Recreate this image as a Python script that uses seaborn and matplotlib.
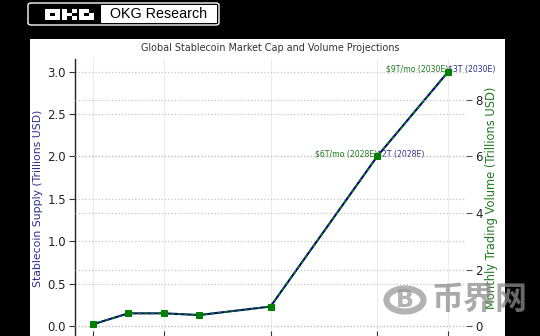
import matplotlib
matplotlib.use("Agg")
import matplotlib.pyplot as plt
from matplotlib.patches import Rectangle, FancyBboxPatch, Circle
import seaborn as sns
import pandas as pd

# Projection data
years = [2020, 2021, 2022, 2023, 2025, 2028, 2030]
supply_trn = [0.02, 0.15, 0.15, 0.13, 0.23, 2.0, 3.0]
volume_trn = [0.06, 0.45, 0.45, 0.39, 0.69, 6.0, 9.0]
year_ticks = [2020, 2022, 2025, 2028, 2030]

supply_notes = [(2028, 2.0, "$2T (2028E)"), (2030, 3.0, "$3T (2030E)")]
volume_notes = [(2028, 6.0, "$6T/mo (2028E)"), (2030, 9.0, "$9T/mo (2030E)")]

title = "Global Stablecoin Market Cap and Volume Projections"
left_label = "Stablecoin Supply (Trillions USD)"
right_label = "Monthly Trading Volume (Trillions USD)"

SUPPLY_C = "#2e2e8e"
VOLUME_C = "#1f7a1f"

df = pd.DataFrame({"year": years, "supply": supply_trn, "volume": volume_trn})

sns.set_theme(style="white")
plt.rcParams["font.family"] = ["DejaVu Sans", "Noto Sans CJK SC"]

W, H = 540, 336
fig = plt.figure(figsize=(W / 100, H / 100), dpi=100, facecolor="black")

def fx(px):
    return px / W

def fy(py):
    return 1 - py / H

# white chart panel (behind the axes)
fig.patches.append(Rectangle((fx(30), fy(336)), fx(505) - fx(30), fy(39) - fy(336),
                             transform=fig.transFigure, facecolor="white",
                             edgecolor="none", zorder=-5))

# header badge
fig.patches.append(FancyBboxPatch((fx(28), fy(25)), fx(219) - fx(28), fy(3) - fy(25),
                                  boxstyle="round,pad=0,rounding_size=0.006",
                                  transform=fig.transFigure, facecolor="black",
                                  edgecolor="white", linewidth=1.0, zorder=1))
fig.patches.append(Rectangle((fx(101), fy(23)), fx(217) - fx(101), fy(5) - fy(23),
                             transform=fig.transFigure, facecolor="white",
                             edgecolor="none", zorder=2))
fig.text(fx(159), fy(14.5), "OKG Research", ha="center", va="center",
         fontsize=10.3, family="Liberation Sans", color="black", zorder=3)

# blocky logo letters
glyphs = {
    "O": ["111", "101", "111"],
    "K": ["101", "110", "101"],
    "G": ["110", "101", "111"],
}
cell_w, cell_h = 5.0, 3.7
x0 = 45
for ch in "OKG":
    for r, row in enumerate(glyphs[ch]):
        for c, v in enumerate(row):
            if v == "1":
                px = x0 + c * cell_w
                py = 9 + r * cell_h
                fig.patches.append(Rectangle((fx(px), fy(py + cell_h)), cell_w / W, cell_h / H,
                                             transform=fig.transFigure, facecolor="white",
                                             edgecolor="none", zorder=3))
    x0 += 3 * cell_w + 2

# main axes
ax1 = fig.add_axes([fx(75), fy(337), fx(466) - fx(75), fy(59) - fy(337)])
ax1.set_facecolor("none")
ax2 = ax1.twinx()
ax1.set_zorder(2)
ax2.set_zorder(3)
ax2.set_facecolor("none")

sns.lineplot(data=df, x="year", y="supply", ax=ax1, color="navy", linewidth=1.5)
sns.lineplot(data=df, x="year", y="volume", ax=ax2, color="green", linewidth=1.2,
             linestyle=(0, (2, 2)), marker="s", markersize=4.5,
             markeredgecolor="green")

for x, y, s in supply_notes:
    ax1.text(x, y, s, color=SUPPLY_C, fontsize=5.6, ha="left", va="baseline")
for x, y, s in volume_notes:
    ax2.text(x, y, s, color=VOLUME_C, fontsize=5.6, ha="right", va="baseline")

ax1.set_xticks(year_ticks)
ax1.set_xlabel("")
ax1.set_ylabel(left_label, color=SUPPLY_C, fontsize=7.8, labelpad=3)
ax2.set_ylabel(right_label, color=VOLUME_C, fontsize=8.3, labelpad=2)
ax1.set_title(title, fontsize=6.9, color="#333333")

ax1.grid(axis="x", linestyle="-", color="#e8e8e8", linewidth=0.6)
ax1.grid(axis="y", linestyle=":", color="#c4c4c4", linewidth=0.9)
ax2.grid(axis="y", linestyle=":", color="#c4c4c4", linewidth=0.9)
ax1.set_axisbelow(True)

for sp in ["top", "right", "bottom"]:
    ax1.spines[sp].set_visible(False)
for sp in ["top", "right", "bottom", "left"]:
    ax2.spines[sp].set_visible(False)
ax1.spines["left"].set_color("#222222")
ax1.spines["left"].set_linewidth(1.0)

ax1.tick_params(axis="y", left=True, length=4, width=0.8, color="#333333",
                labelsize=8.5, labelcolor="#222222", pad=2.5)
ax1.tick_params(axis="x", bottom=True, direction="in", length=4, width=0.8,
                color="#333333", labelsize=8.5)
ax2.tick_params(axis="y", right=True, length=4, width=0.8, color="#555555",
                labelsize=8.5, labelcolor="#222222", pad=2.5)

# site watermark
fig.patches.append(Circle((fx(405), fy(300)), 18.5 / W, transform=fig.transFigure,
                          facecolor="none", edgecolor="#9a9a9a", linewidth=4.5,
                          alpha=0.75, zorder=10))
fig.text(fx(405), fy(300), "B", ha="center", va="center", fontsize=17,
         fontweight="bold", color="#9a9a9a", alpha=0.75, zorder=10)
fig.text(fx(480), fy(300), "币界网", ha="center", va="center", fontsize=23,
         fontweight="bold", family="Noto Sans CJK SC", color="#8c8c8c",
         alpha=0.75, zorder=10)

fig.savefig("out.png", dpi=100, facecolor="black")
